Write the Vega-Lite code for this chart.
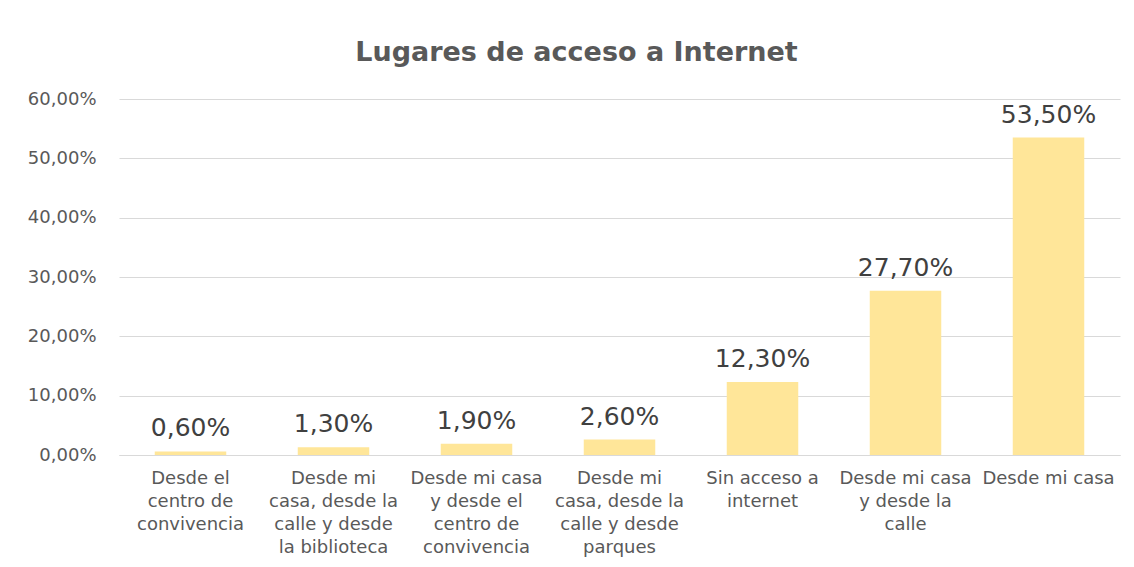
{
  "$schema": "https://vega.github.io/schema/vega-lite/v6.json",
  "width": 1001,
  "height": 356,
  "autosize": {"type": "none"},
  "padding": {"left": 119, "top": 99, "right": 14, "bottom": 112},
  "background": "white",
  "title": {
    "text": "Lugares de acceso a Internet",
    "font": "DejaVu Sans",
    "fontSize": 27,
    "fontWeight": "bold",
    "color": "#595959",
    "anchor": "middle",
    "baseline": "alphabetic",
    "dx": -43,
    "offset": 2
  },
  "data": {
    "values": [
      {"lugar": "Desde el centro de convivencia", "pct": 0.006},
      {"lugar": "Desde mi casa, desde la calle y desde la biblioteca", "pct": 0.013},
      {"lugar": "Desde mi casa y desde el centro de convivencia", "pct": 0.019},
      {"lugar": "Desde mi casa, desde la calle y desde parques", "pct": 0.026},
      {"lugar": "Sin acceso a internet", "pct": 0.123},
      {"lugar": "Desde mi casa y desde la calle", "pct": 0.277},
      {"lugar": "Desde mi casa", "pct": 0.535}
    ]
  },
  "encoding": {
    "x": {
      "field": "lugar",
      "type": "nominal",
      "sort": null,
      "scale": {"paddingInner": 0.5, "paddingOuter": 0.25},
      "axis": {
        "title": null,
        "labelAngle": 0,
        "ticks": false,
        "domainColor": "#d9d9d9",
        "domainWidth": 1,
        "labelPadding": 14,
        "labelBaseline": "top",
        "labelFont": "DejaVu Sans",
        "labelFontSize": 18,
        "labelColor": "#595959",
        "labelLineHeight": 23,
        "labelLimit": 0,
        "labelExpr": "{'Desde el centro de convivencia': ['Desde el','centro de','convivencia'], 'Desde mi casa, desde la calle y desde la biblioteca': ['Desde mi','casa, desde la','calle y desde','la biblioteca'], 'Desde mi casa y desde el centro de convivencia': ['Desde mi casa','y desde el','centro de','convivencia'], 'Desde mi casa, desde la calle y desde parques': ['Desde mi','casa, desde la','calle y desde','parques'], 'Sin acceso a internet': ['Sin acceso a','internet'], 'Desde mi casa y desde la calle': ['Desde mi casa','y desde la','calle'], 'Desde mi casa': ['Desde mi casa']}[datum.value]"
      }
    },
    "y": {
      "field": "pct",
      "type": "quantitative",
      "scale": {"domain": [0, 0.6]},
      "axis": {
        "title": null,
        "values": [0, 0.1, 0.2, 0.3, 0.4, 0.5, 0.6],
        "format": ".2%",
        "domain": false,
        "ticks": false,
        "gridColor": "#d9d9d9",
        "gridWidth": 1,
        "labelPadding": 23,
        "labelFont": "DejaVu Sans",
        "labelFontSize": 18,
        "labelColor": "#595959"
      }
    }
  },
  "layer": [
    {"mark": {"type": "bar", "color": "#FFE699"}},
    {
      "mark": {
        "type": "text",
        "align": "center",
        "baseline": "alphabetic",
        "dy": -15,
        "font": "DejaVu Sans",
        "fontSize": 25,
        "color": "#404040"
      },
      "encoding": {"text": {"field": "pct", "type": "quantitative", "format": ".2%"}}
    }
  ],
  "config": {
    "view": {"stroke": null},
    "locale": {"number": {"decimal": ",", "thousands": ".", "grouping": [3], "currency": ["", " €"]}}
  }
}
